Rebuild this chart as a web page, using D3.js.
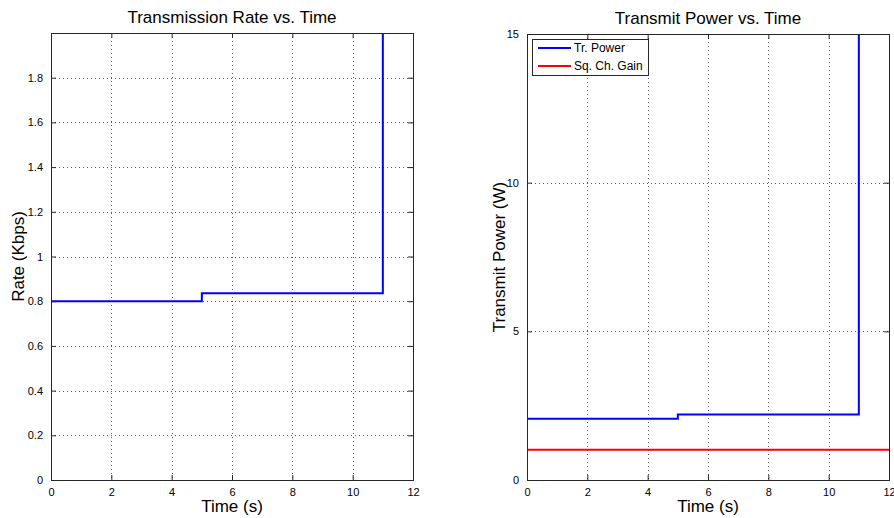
<!DOCTYPE html>
<html><head><meta charset="utf-8">
<script src="https://cdn.jsdelivr.net/npm/d3@7"></script>
<style>body{margin:0;background:#fff}svg{display:block}text{font-family:"Liberation Sans",Arial,sans-serif;fill:#000}</style>
</head><body><svg id="c" width="894" height="518"></svg>
<script>
// Data
const xTicks = [0, 2, 4, 6, 8, 10, 12];
const rateTime = [0, 5, 5, 11, 11];
const rateValues = [0.8, 0.8, 0.836, 0.836, 3];
const rateTicks = [0, 0.2, 0.4, 0.6, 0.8, 1, 1.2, 1.4, 1.6, 1.8];
const powerTime = [0, 5, 5, 11, 11];
const powerValues = [2.06, 2.06, 2.2, 2.2, 20];
const gainTime = [0, 12];
const gainValues = [1.02, 1.02];
const powerTicks = [0, 5, 10, 15];
const legendLabels = ["Tr. Power", "Sq. Ch. Gain"];
const colors = ["#0000ff", "#ff0000"];

const svg = d3.select("#c");

function panel(opt) {
  const x = d3.scaleLinear().domain([0, 12]).range([opt.x0, opt.x1]);
  const y = d3.scaleLinear().domain(opt.ydom).range([opt.y1, opt.y0]);
  const g = svg.append("g");
  const clipId = "clip" + opt.id;
  svg.append("clipPath").attr("id", clipId).append("rect")
    .attr("x", opt.x0).attr("y", opt.y0).attr("width", opt.x1 - opt.x0).attr("height", opt.y1 - opt.y0);
  // grid
  const grid = g.append("g").attr("stroke", "#555").attr("stroke-dasharray", "1,3").attr("stroke-width", 1);
  xTicks.slice(1, -1).forEach(t => grid.append("line").attr("x1", Math.round(x(t)) + 0.5).attr("x2", Math.round(x(t)) + 0.5).attr("y1", opt.y0).attr("y2", opt.y1));
  opt.yticks.filter(t => t > opt.ydom[0] && t < opt.ydom[1]).forEach(t => grid.append("line").attr("y1", Math.round(y(t)) + 0.5).attr("y2", Math.round(y(t)) + 0.5).attr("x1", opt.x0).attr("x2", opt.x1));
  // series
  const line = d3.line().x(d => x(d[0])).y(d => y(d[1]));
  opt.series.forEach(s => {
    g.append("path").attr("clip-path", `url(#${clipId})`)
      .datum(s.t.map((t, i) => [t, s.v[i]]))
      .attr("d", line).attr("fill", "none").attr("stroke", s.color).attr("stroke-width", 2);
  });
  // axes
  const xa = g.append("g").attr("transform", `translate(0,${opt.y1})`)
    .call(d3.axisBottom(x).tickValues(xTicks).tickSize(-5).tickPadding(8).tickFormat(d3.format("d")));
  const xt = g.append("g").attr("transform", `translate(0,${opt.y0})`)
    .call(d3.axisTop(x).tickValues(xTicks).tickSize(-5).tickFormat(""));
  const ya = g.append("g").attr("transform", `translate(${opt.x0},0)`)
    .call(d3.axisLeft(y).tickValues(opt.yticks).tickSize(-5).tickPadding(8).tickFormat(opt.fmt));
  const yr = g.append("g").attr("transform", `translate(${opt.x1},0)`)
    .call(d3.axisRight(y).tickValues(opt.yticks).tickSize(-5).tickFormat(""));
  [xa, xt, ya, yr].forEach(a => {
    a.selectAll("path").attr("stroke", "#262626");
    a.selectAll("line").attr("stroke", "#262626");
    a.selectAll("text").attr("font-size", 11).attr("font-family", "Liberation Sans, Arial, sans-serif").attr("fill", "#222");
  });
  // titles
  g.append("text").attr("x", (opt.x0 + opt.x1) / 2).attr("y", opt.y0 - 10).attr("text-anchor", "middle")
    .attr("font-size", 17).text(opt.title);
  g.append("text").attr("x", (opt.x0 + opt.x1) / 2).attr("y", opt.y1 + 32).attr("text-anchor", "middle")
    .attr("font-size", 17).text("Time (s)");
  g.append("text").attr("transform", `translate(${opt.ylx},${(opt.y0 + opt.y1) / 2}) rotate(-90)`)
    .attr("text-anchor", "middle").attr("font-size", 17).text(opt.ylabel);
  return {x, y, g};
}

panel({id: 1, x0: 51, x1: 413, y0: 33, y1: 480, ydom: [0, 2], yticks: rateTicks,
  fmt: d => d3.format("")(d), title: "Transmission Rate vs. Time", ylabel: "Rate (Kbps)", ylx: 24,
  series: [{t: rateTime, v: rateValues, color: colors[0]}]});

const p2 = panel({id: 2, x0: 527, x1: 889, y0: 34, y1: 480, ydom: [0, 15], yticks: powerTicks,
  fmt: d3.format("d"), title: "Transmit Power vs. Time", ylabel: "Transmit Power (W)", ylx: 505,
  series: [{t: powerTime, v: powerValues, color: colors[0]}, {t: gainTime, v: gainValues, color: colors[1]}]});

// legend
const lg = p2.g.append("g");
lg.append("rect").attr("x", 532.5).attr("y", 39.5).attr("width", 116).attr("height", 36)
  .attr("fill", "#fff").attr("stroke", "#262626");
legendLabels.forEach((l, i) => {
  const yy = 48 + i * 18;
  lg.append("line").attr("x1", 538).attr("x2", 571).attr("y1", yy).attr("y2", yy).attr("stroke", colors[i]).attr("stroke-width", 2);
  lg.append("text").attr("x", 574).attr("y", yy + 4).attr("font-size", 12).attr("fill", "#222").text(l);
});
</script></body></html>
